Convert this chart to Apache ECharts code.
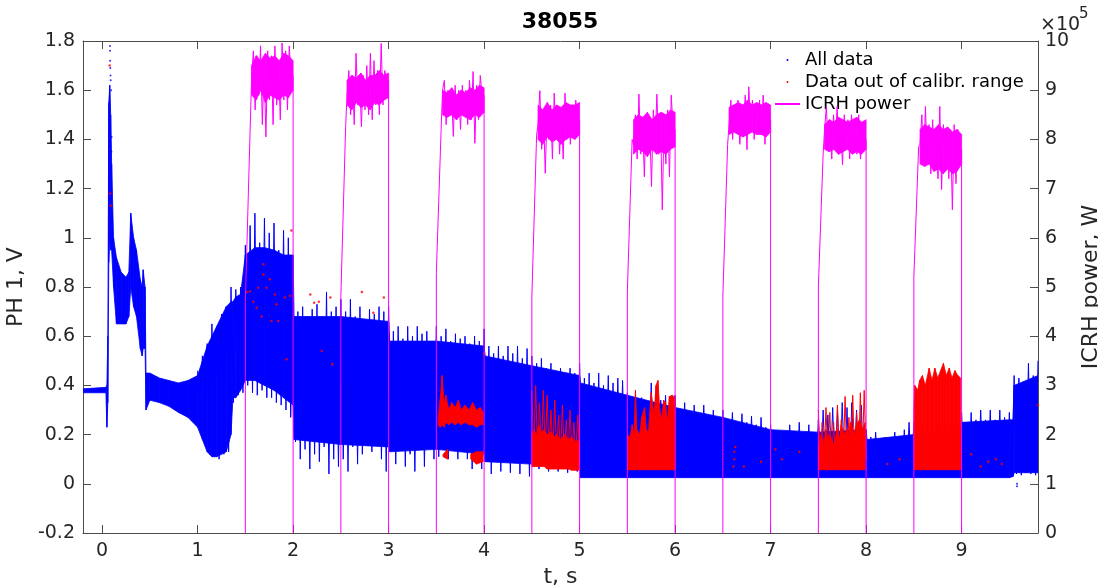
<!DOCTYPE html>
<html><head><meta charset="utf-8">
<script src="https://cdn.jsdelivr.net/npm/echarts@6/dist/echarts.min.js"></script>
<style>html,body{margin:0;padding:0;background:#fff}#c{width:1098px;height:588px}</style>
</head><body><div id="c"></div>
<script>
// ---------- axis ticks ----------
const xTicks = [0,1,2,3,4,5,6,7,8,9];
const yTicks = [-0.2,0,0.2,0.4,0.6,0.8,1,1.2,1.4,1.6,1.8];

// ---------- PH 1 signal, all data: dense core envelope (time s, low V, high V) ----------
const blueT  = [-0.2,0.04,0.05,0.06,0.07,0.08,0.09,0.1,0.12,0.15,0.2,0.25,0.28,0.3,0.33,0.36,0.4,0.42,0.43,0.45,0.46,0.5,0.6,0.7,0.8,0.9,
 1.0,1.05,1.1,1.15,1.2,1.25,1.3,1.35,1.37,1.4,1.45,1.5,1.6,1.7,1.8,1.9,2.0,2.01,2.5,3.0,3.01,3.5,4.0,4.01,4.5,5.0,5.01,5.5,6.0,6.5,7.0,7.5,8.0,8.01,8.5,9.0,9.01,9.5,9.54,9.55,9.8];
const blueLo = [0.37,0.37,0.23,0.33,0.9,1.0,0.95,0.95,0.8,0.65,0.65,0.65,0.68,0.8,0.72,0.68,0.55,0.52,0.55,0.55,0.3,0.34,0.33,0.315,0.29,0.27,
 0.23,0.18,0.13,0.11,0.11,0.12,0.13,0.2,0.35,0.35,0.38,0.42,0.42,0.4,0.38,0.35,0.32,0.18,0.16,0.15,0.13,0.14,0.12,0.09,0.08,0.07,0.025,0.025,0.025,0.025,0.025,0.025,0.025,0.025,0.025,0.025,0.025,0.025,0.03,0.045,0.045];
const blueHi = [0.386,0.392,0.4,0.6,1.55,1.62,1.5,1.3,1.0,0.92,0.86,0.84,0.86,1.1,1.0,0.95,0.83,0.8,0.87,0.8,0.45,0.45,0.43,0.42,0.41,0.42,
 0.44,0.5,0.56,0.6,0.64,0.68,0.72,0.74,0.74,0.76,0.77,0.93,0.96,0.96,0.95,0.93,0.93,0.68,0.68,0.66,0.58,0.58,0.56,0.52,0.48,0.44,0.41,0.36,0.31,0.27,0.22,0.21,0.22,0.18,0.2,0.22,0.25,0.26,0.26,0.4,0.44];
// PH 1 spike tips, alternately upper / lower, sampled every 0.025 s from 1.0 s to 9.8 s
const needleStart = 1.0, needleStep = 0.025;
const needleV = [
 0.46,0.22,0.52,0.16,0.57,0.12,0.65,0.11,0.62,0.10,0.69,0.12,0.72,0.13,0.80,0.33,0.79,0.36,0.80,0.37,
 0.97,0.40,1.05,0.37,1.10,0.36,0.98,0.38,1.08,0.35,1.02,0.35,1.06,0.33,0.95,0.32,1.03,0.30,1.00,0.27,
 0.74,0.17,0.70,0.10,0.72,0.14,0.68,0.06,0.71,0.12,0.73,0.09,0.66,0.15,0.78,0.04,0.70,0.10,0.72,0.07,
 0.75,0.10,0.70,0.05,0.75,0.15,0.68,0.08,0.72,0.12,0.66,0.16,0.71,0.13,0.69,0.18,0.72,0.10,0.70,0.05,
 0.72,0.15,0.62,0.08,0.64,0.16,0.59,0.07,0.64,0.12,0.60,0.05,0.64,0.14,0.61,0.07,0.62,0.16,0.58,0.10,
 0.64,0.11,0.60,0.16,0.63,0.10,0.58,0.15,0.61,0.10,0.59,0.13,0.60,0.10,0.57,0.06,0.60,0.12,0.58,0.06,
 0.63,0.10,0.56,0.04,0.53,0.12,0.56,0.05,0.52,0.11,0.56,0.045,0.53,0.10,0.56,0.04,0.51,0.09,0.55,0.03,
 0.52,0.09,0.49,0.06,0.51,0.08,0.47,0.05,0.49,0.07,0.45,0.05,0.47,0.06,0.44,0.045,0.47,0.07,0.45,0.05,
 0.49,0.03,0.43,0.03,0.45,0.03,0.41,0.03,0.45,0.03,0.40,0.03,0.44,0.03,0.41,0.03,0.43,0.03,0.42,0.03,
 0.37,0.03,0.33,0.03,0.34,0.03,0.35,0.03,0.33,0.03,0.41,0.03,0.36,0.03,0.34,0.03,0.36,0.03,0.35,0.03,
 0.36,0.03,0.30,0.03,0.33,0.03,0.29,0.03,0.32,0.03,0.28,0.03,0.32,0.03,0.28,0.03,0.30,0.03,0.27,0.03,
 0.30,0.03,0.26,0.03,0.29,0.03,0.25,0.03,0.285,0.03,0.25,0.03,0.275,0.03,0.24,0.03,0.27,0.03,0.23,0.03,
 0.24,0.03,0.20,0.03,0.21,0.03,0.19,0.03,0.24,0.03,0.21,0.03,0.25,0.03,0.21,0.03,0.24,0.03,0.21,0.03,
 0.26,0.03,0.30,0.03,0.28,0.03,0.31,0.03,0.30,0.03,0.33,0.03,0.31,0.03,0.33,0.03,0.30,0.03,0.32,0.03,
 0.22,0.03,0.19,0.03,0.21,0.03,0.17,0.03,0.19,0.03,0.17,0.03,0.21,0.03,0.18,0.03,0.22,0.03,0.25,0.03,
 0.25,0.03,0.24,0.03,0.25,0.03,0.23,0.03,0.25,0.03,0.24,0.03,0.25,0.03,0.24,0.03,0.25,0.03,0.24,0.03,
 0.29,0.03,0.25,0.03,0.29,0.03,0.26,0.03,0.30,0.03,0.26,0.03,0.30,0.03,0.26,0.03,0.30,0.03,0.27,0.03,
 0.29,0.03,0.44,0.04,0.43,0.035,0.40,0.045,0.49,0.04,0.44,0.035,0.50];
// sparse points above the initial spike
const blueDots = [[0.082,1.78],[0.083,1.76],[0.084,1.72],[0.086,1.69],[0.088,1.66],[0.09,1.64],[0.095,1.6],[0.1,1.41],[0.098,1.35],[9.58,0.0],[9.58,-0.01]];

// ---------- data out of calibration range: dense part envelope (null separates windows) ----------
const redT  = [3.52,3.54,3.56,3.58,3.6,3.63,3.66,3.7,3.73,3.76,3.8,3.84,3.88,3.92,3.96,3.99,null,
 3.57,3.62,null, 3.86,3.92,3.99,null,
 4.5,4.52,4.55,4.57,4.6,4.63,4.66,4.7,4.73,4.76,4.8,4.84,4.88,4.92,4.96,5.0,null,
 5.5,5.53,5.55,5.57,5.585,5.6,5.63,5.65,5.68,5.7,5.72,5.75,5.78,5.8,5.82,5.84,5.86,5.88,5.9,5.92,5.94,5.97,6.0,null,
 7.5,7.53,7.56,7.58,7.6,7.62,7.66,7.7,7.72,7.74,7.77,7.8,7.82,7.84,7.87,7.9,7.93,7.96,7.99,null,
 8.5,8.51,8.54,8.56,8.59,8.62,8.66,8.69,8.72,8.75,8.78,8.81,8.84,8.87,8.9,8.93,8.96,8.99];
const redLo = [0.24,0.23,0.24,0.23,0.25,0.24,0.25,0.24,0.25,0.24,0.25,0.24,0.24,0.23,0.24,0.24,null,
 0.11,0.1,null, 0.1,0.08,0.09,null,
 0.07,0.07,0.07,0.07,0.07,0.07,0.06,0.06,0.06,0.06,0.06,0.06,0.06,0.055,0.055,0.055,null,
 0.057,0.057,0.057,0.057,0.057,0.057,0.057,0.057,0.057,0.057,0.057,0.057,0.057,0.057,0.057,0.057,0.057,0.057,0.057,0.057,0.057,0.057,0.057,null,
 0.057,0.057,0.057,0.057,0.057,0.057,0.057,0.057,0.057,0.057,0.057,0.057,0.057,0.057,0.057,0.057,0.057,0.057,0.057,null,
 0.057,0.057,0.057,0.057,0.057,0.057,0.057,0.057,0.057,0.057,0.057,0.057,0.057,0.057,0.057,0.057,0.057,0.057];
const redHi = [0.27,0.34,0.44,0.33,0.36,0.3,0.33,0.31,0.34,0.3,0.32,0.3,0.33,0.3,0.31,0.29,null,
 0.12,0.14,null, 0.12,0.13,0.13,null,
 0.2,0.22,0.2,0.24,0.21,0.22,0.2,0.21,0.19,0.2,0.18,0.2,0.18,0.19,0.17,0.18,null,
 0.2,0.19,0.24,0.2,0.38,0.22,0.2,0.27,0.31,0.22,0.21,0.37,0.28,0.4,0.42,0.3,0.26,0.34,0.33,0.25,0.355,0.36,0.35,null,
 0.15,0.2,0.16,0.22,0.17,0.2,0.16,0.22,0.18,0.24,0.2,0.22,0.19,0.25,0.2,0.24,0.26,0.22,0.25,null,
 0.3,0.4,0.38,0.42,0.44,0.4,0.47,0.42,0.47,0.43,0.46,0.49,0.44,0.47,0.43,0.46,0.44,0.43];
// sparser red spikes above the dense part (alternately tip / base)
const redNeedleT = [4.5,4.52,4.54,4.56,4.58,4.6,4.62,4.64,4.66,4.68,4.7,4.72,4.74,4.76,4.78,4.8,4.82,4.84,4.86,4.88,4.9,4.92,4.94,4.96,4.98,5.0,null,
 7.5,7.52,7.54,7.56,7.58,7.6,7.62,7.64,7.66,7.68,7.7,7.72,7.74,7.76,7.78,7.8,7.82,7.84,7.86,7.88,7.9,7.92,7.94,7.96,7.98,8.0];
const redNeedleV = [0.38,0.12,0.40,0.12,0.33,0.12,0.38,0.12,0.36,0.12,0.30,0.12,0.34,0.12,0.28,0.12,0.32,0.12,0.26,0.12,0.30,0.12,0.25,0.12,0.28,0.12,null,
 0.30,0.1,0.25,0.1,0.31,0.1,0.29,0.1,0.25,0.1,0.32,0.1,0.26,0.1,0.355,0.1,0.27,0.1,0.36,0.1,0.29,0.1,0.37,0.1,0.38,0.1];
const redDots = [[0.08,1.7],[0.085,1.18],[0.09,1.13],[1.513,0.78],[1.548,0.783],[1.583,0.74],[1.618,0.716],[1.635,0.797],[1.67,0.68],[1.687,0.851],[1.687,0.892],
 [1.722,0.797],[1.757,0.831],[1.774,0.662],[1.809,0.77],[1.826,0.73],[1.844,0.662],[1.913,0.757],[1.931,0.506],[1.966,0.764],[1.983,1.03],
 [2.18,0.77],[2.22,0.736],[2.27,0.74],[2.3,0.54],[2.39,0.757],[2.41,0.486],[2.72,0.78],[2.84,0.695],[2.95,0.757],[4.0,0.53],
 [6.61,0.07],[6.62,0.1],[6.62,0.13],[6.63,0.15],[6.72,0.07],[6.9,0.09],[7.05,0.14],[7.12,0.1],[7.3,0.13],[8.22,0.08],[8.35,0.1],
 [9.1,0.12],[9.2,0.07],[9.28,0.09],[9.36,0.1],[9.42,0.08],[9.8,0.32]];

// ---------- ICRH power (units of 1e5 W) ----------
const pulseStart = [1.5,2.5,3.5,4.5,5.5,6.5,7.5,8.5];
const pulseEnd   = [2.0,3.0,4.0,5.0,6.0,7.0,8.0,9.0];
const pulseStep  = [4.7,4.8,5.3,4.8,4.9,4.8,5.0,5.2];   // top of the switch-on step
const pulseRamp  = [8.2,8.26,8.2,8.1,8.0,7.9,7.7,7.85]; // end of the fast rise
// dense core of each plateau: 10 samples from plateau start to switch-off
const coreHi = [
 [9.5,9.7,9.6,9.75,9.65,9.7,9.6,9.75,9.7,9.6],
 [9.2,9.3,9.25,9.35,9.2,9.3,9.3,9.4,9.3,9.35],
 [9.0,8.95,9.05,8.9,9.0,8.95,9.05,9.0,9.1,9.05],
 [8.7,8.6,8.75,8.6,8.7,8.65,8.75,8.7,8.7,8.75],
 [8.4,8.5,8.45,8.55,8.4,8.5,8.55,8.5,8.6,8.55],
 [8.65,8.7,8.75,8.7,8.8,8.7,8.75,8.7,8.75,8.7],
 [8.3,8.4,8.35,8.45,8.4,8.35,8.4,8.45,8.35,8.4],
 [8.2,8.3,8.25,8.2,8.3,8.2,8.25,8.15,8.2,8.1]];
const coreLo = [
 [8.9,8.8,9.0,8.75,8.9,8.85,8.8,8.9,8.85,9.0],
 [8.7,8.6,8.75,8.65,8.7,8.6,8.75,8.7,8.8,8.85],
 [8.5,8.45,8.5,8.4,8.5,8.45,8.4,8.5,8.45,8.55],
 [8.0,7.9,8.05,7.95,8.0,7.9,8.0,8.05,8.0,8.1],
 [7.7,7.8,7.75,7.65,7.8,7.7,7.75,7.7,7.8,7.85],
 [8.1,8.15,8.1,8.05,8.1,8.15,8.1,8.1,8.05,8.15],
 [7.8,7.75,7.8,7.7,7.75,7.8,7.7,7.75,7.7,7.8],
 [7.5,7.45,7.5,7.35,7.4,7.3,7.4,7.3,7.35,7.5]];
// spikes on each plateau (23 samples)
const plateau = [
 [9.2,9.8,8.6,9.7,8.9,9.9,8.3,9.6,8.05,9.8,8.8,9.7,8.3,9.9,8.7,9.5,8.4,9.96,8.8,9.8,8.6,9.9,9.3],
 [8.9,9.4,8.5,9.3,8.3,9.75,8.7,9.2,8.26,9.3,8.6,9.5,8.5,9.75,8.4,9.6,8.7,9.4,8.5,9.95,8.7,9.4,9.2],
 [9.0,9.2,8.3,9.0,8.5,8.9,8.06,9.1,8.4,9.0,8.2,9.1,8.5,9.0,8.3,9.2,8.4,9.38,7.92,9.1,8.4,9.3,8.9],
 [8.3,8.99,7.8,8.6,7.31,8.5,8.0,8.7,7.6,8.94,8.1,8.6,7.7,8.5,7.6,8.94,8.0,8.7,7.9,8.6,8.1,8.8,8.4],
 [7.9,8.5,7.6,8.92,7.7,8.4,7.24,8.5,7.8,8.3,7.04,8.6,7.9,8.92,7.7,8.5,6.57,8.4,7.5,8.6,7.24,8.9,8.2],
 [8.3,8.8,8.0,8.7,8.2,8.8,7.9,8.6,8.1,8.9,7.79,9.07,8.2,8.8,8.0,8.7,8.3,8.8,8.1,8.9,7.9,8.7,8.4],
 [8.2,8.67,7.8,8.4,7.6,8.5,7.9,8.67,7.7,8.3,7.48,8.5,7.8,8.4,7.6,8.5,7.9,8.4,7.7,8.5,7.6,8.3,8.0],
 [7.9,8.5,7.5,8.67,7.6,8.3,7.3,8.4,7.5,8.2,7.2,8.67,6.98,8.3,7.4,8.1,7.2,8.2,6.57,8.3,7.1,8.2,7.8]
];

// ---------- build ----------
const BLUE='#0000ff', RED='#ff0000', MAG='#ff00ff';
function bandSeries(name, t, lo, hi, color, yAxisIndex, z){
  const data=[];
  for(let i=0;i+1<t.length;i++){
    if(t[i]==null||t[i+1]==null) continue;
    data.push([t[i],lo[i],hi[i],t[i+1],lo[i+1],hi[i+1]]);
  }
  return {type:'custom', name, yAxisIndex, z, clip:true, silent:true,
    itemStyle:{color}, encode:{x:[0,3], y:[1,2,4,5]},
    renderItem:(params, api)=>{
      const a=api.coord([api.value(0),api.value(1)]);
      const b=api.coord([api.value(0),api.value(2)]);
      const c=api.coord([api.value(3),api.value(5)]);
      const d=api.coord([api.value(3),api.value(4)]);
      if(Math.abs(c[0]-a[0])<0.01) return null;
      return {type:'polygon', shape:{points:[a,b,c,d]}, style:{fill:color, stroke:color, lineWidth:0.8}};
    }, data};
}
const needleData = needleV.map((v,i)=>[needleStart+needleStep*i, v]);
const redNeedleData = redNeedleT.map((t,i)=>[t, redNeedleV[i]]);
const icrhLine=[];
const coreT=[], coreL=[], coreH=[];
for(let k=0;k<pulseStart.length;k++){
  const s=pulseStart[k], e=pulseEnd[k];
  icrhLine.push([s,0],[s,pulseStep[k]],[s+0.05,pulseRamp[k]]);
  const vals=plateau[k];
  for(let i=0;i<vals.length;i++) icrhLine.push([s+0.065+0.0188*i, vals[i]]);
  icrhLine.push([e, vals[vals.length-1]],[e,0],[e,null]);
  const n=coreHi[k].length;
  for(let j=0;j<n;j++){ coreT.push(s+0.065+(e-s-0.065)*j/(n-1)); coreL.push(coreLo[k][j]); coreH.push(coreHi[k][j]); }
  coreT.push(null); coreL.push(null); coreH.push(null);
}

const FONT='DejaVu Sans', TXT='#262626', AX='#4d4d4d';
const chart=echarts.init(document.getElementById('c'), null, {renderer:'canvas'});
chart.setOption({
  animation:false,
  backgroundColor:'#fff',
  title:{text:'38055', left:560, top:11, textAlign:'center', padding:0,
    textStyle:{fontFamily:FONT, fontSize:22, fontWeight:'bold', color:'#000'}},
  grid:{left:83, right:60, top:41, bottom:55, containLabel:false, outerBoundsMode:'none'},
  legend:{orient:'vertical', left:774, top:49, padding:0, itemWidth:25, itemHeight:2, itemGap:0, itemTextGap:3,
    textStyle:{fontFamily:FONT, fontSize:18, color:'#000', lineHeight:22},
    data:[{name:'All data', icon:'circle', itemStyle:{color:BLUE}},
          {name:'Data out of calibr. range', icon:'circle', itemStyle:{color:RED}},
          {name:'ICRH power'}]},
  xAxis:[{type:'value', min:-0.2, max:9.8, position:'bottom',
      name:'t, s', nameLocation:'middle', nameGap:32,
      nameTextStyle:{fontFamily:FONT, fontSize:22, color:TXT},
      axisLine:{show:true, onZero:false, lineStyle:{color:AX}},
      axisTick:{show:true, inside:true, length:8, customValues:xTicks, lineStyle:{color:AX}},
      axisLabel:{customValues:xTicks, margin:9, fontFamily:FONT, fontSize:19, color:TXT},
      splitLine:{show:false}},
    {type:'value', min:-0.2, max:9.8, position:'top',
      axisLine:{show:true, onZero:false, lineStyle:{color:AX}},
      axisTick:{show:true, inside:true, length:8, customValues:xTicks, lineStyle:{color:AX}},
      axisLabel:{show:false}, splitLine:{show:false}}],
  yAxis:[{type:'value', min:-0.2, max:1.8, position:'left',
      name:'PH 1, V', nameLocation:'middle', nameGap:50, nameRotate:90,
      nameTextStyle:{fontFamily:FONT, fontSize:22, color:TXT},
      axisLine:{show:true, onZero:false, lineStyle:{color:AX}},
      axisTick:{show:true, inside:true, length:8, customValues:yTicks, lineStyle:{color:AX}},
      axisLabel:{customValues:yTicks, margin:8, fontFamily:FONT, fontSize:19, color:TXT,
        formatter:v=>String(Math.round(v*10)/10)},
      splitLine:{show:false}},
    {type:'value', min:0, max:10, interval:1, position:'right',
      name:'ICRH power, W', nameLocation:'middle', nameGap:36, nameRotate:90,
      nameTextStyle:{fontFamily:FONT, fontSize:22, color:TXT},
      axisLine:{show:true, onZero:false, lineStyle:{color:AX}},
      axisTick:{show:true, inside:true, length:8, lineStyle:{color:AX}},
      axisLabel:{margin:7, fontFamily:FONT, fontSize:19, color:TXT, formatter:v=>String(v)},
      splitLine:{show:false}}],
  graphic:[
    {type:'text', left:1040, top:16, style:{text:'×10', fontFamily:FONT, fontSize:19, fill:TXT}},
    {type:'text', left:1079, top:7, style:{text:'5', fontFamily:FONT, fontSize:15, fill:TXT}}
  ],
  series:[
    bandSeries('All data', blueT, blueLo, blueHi, BLUE, 0, 2),
    {type:'line', name:'All data', yAxisIndex:0, z:2, symbol:'none', showSymbol:false, silent:true,
      lineStyle:{color:BLUE, width:1}, itemStyle:{color:BLUE}, data:needleData},
    {type:'scatter', name:'All data', yAxisIndex:0, z:2, symbolSize:2, silent:true,
      itemStyle:{color:BLUE}, data:blueDots},
    bandSeries('Data out of calibr. range', redT, redLo, redHi, RED, 0, 3),
    {type:'line', name:'Data out of calibr. range', yAxisIndex:0, z:3, symbol:'none', showSymbol:false, silent:true,
      connectNulls:false, lineStyle:{color:RED, width:1}, itemStyle:{color:RED}, data:redNeedleData},
    {type:'scatter', name:'Data out of calibr. range', yAxisIndex:0, z:3, symbolSize:2.5, silent:true,
      itemStyle:{color:RED}, data:redDots},
    bandSeries('ICRH core', coreT, coreL, coreH, MAG, 1, 4),
    {type:'line', name:'ICRH power', yAxisIndex:1, z:5, symbol:'none', showSymbol:false, silent:true,
      connectNulls:false, lineStyle:{color:MAG, width:1}, itemStyle:{color:MAG}, data:icrhLine}
  ]
});
</script></body></html>
